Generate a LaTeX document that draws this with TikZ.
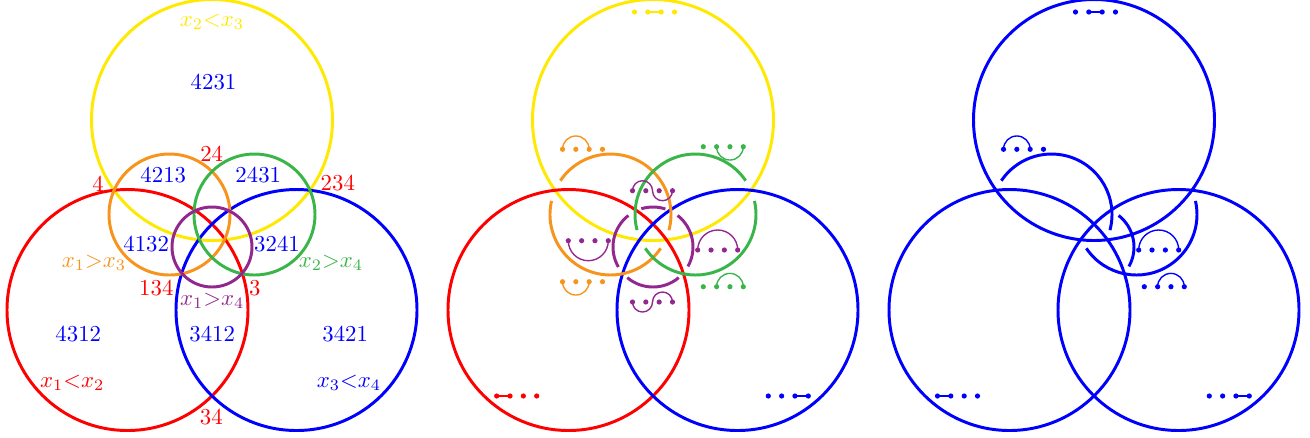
\documentclass[tikz,border=0pt]{standalone}
\definecolor{cyellow}{RGB}{255,233,0}
\definecolor{corange}{RGB}{247,148,29}
\definecolor{cgreen}{RGB}{57,181,74}
\definecolor{cpurple}{RGB}{146,39,143}

\begin{document}
\begin{tikzpicture}[x=0.015413cm,y=0.015413cm,
  ring/.style={line width=1.3pt},
  link/.style={line width=0.6pt},
  lbl/.style={inner sep=0pt}]
 \useasboundingbox (0,0) rectangle (1310,-437);
 % circle centres, one set per panel
 \foreach \p/\dx in {a/0,b/441,c/882}{
   \coordinate (Y\p) at (212+\dx,-120);
   \coordinate (R\p) at (127.5+\dx,-310);
   \coordinate (B\p) at (296.5+\dx,-310);
   \coordinate (O\p) at (169.5+\dx,-214.5);
   \coordinate (G\p) at (254.5+\dx,-214.5);
   \coordinate (P\p) at (212+\dx,-247);
 }

 % left panel: the regions
 \draw[ring,cyellow] (Ya) circle (120.5);
 \draw[ring,red] (Ra) circle (120.5);
 \draw[ring,blue] (Ba) circle (120.5);
 \draw[ring,corange] (Oa) circle (60.5);
 \draw[ring,cgreen] (Ga) circle (60.5);
 \draw[ring,cpurple] (Pa) circle (40);
 \node[lbl,cyellow] (lye) at (212,-22) {$x_2{<}x_3$};
 \node[lbl,blue] (n4231) at (213.5,-81.7) {4231};
 \node[lbl,red] (n24) at (211.7,-153.5) {24};
 \node[lbl,red] (n4) at (98,-183.3) {4};
 \node[lbl,blue] (n4213) at (163.3,-175.5) {4213};
 \node[lbl,blue] (n2431) at (258.3,-175.5) {2431};
 \node[lbl,red] (n234) at (337.8,-183.3) {234};
 \node[lbl,blue] (n4132) at (146.2,-244.3) {4132};
 \node[lbl,blue] (n3241) at (277,-244.3) {3241};
 \node[lbl,corange] (lor) at (94,-263) {$x_1{>}x_3$};
 \node[lbl,cgreen] (lgr) at (331,-263) {$x_2{>}x_4$};
 \node[lbl,red] (n134) at (156.3,-288.3) {134};
 \node[lbl,red] (n3) at (254.7,-288.3) {3};
 \node[lbl,cpurple] (lpu) at (212.3,-301) {$x_1{>}x_4$};
 \node[lbl,blue] (n4312) at (78.3,-333.8) {4312};
 \node[lbl,blue] (n3412) at (212.2,-333.8) {3412};
 \node[lbl,blue] (n3421) at (345.2,-333.8) {3421};
 \node[lbl,red] (lre) at (72.2,-383) {$x_1{<}x_2$};
 \node[lbl,blue] (lbu) at (349,-383) {$x_3{<}x_4$};
 \node[lbl,red] (n34) at (211.3,-416.7) {34};

 % middle panel: broken small circles
 \draw[ring,cyellow] (Yb) circle (120.5);
 \draw[ring,red] (Rb) circle (120.5);
 \draw[ring,blue] (Bb) circle (120.5);
 \draw[ring,corange] (Ob) ++(-15:60.5) arc[start angle=-15,end angle=146,radius=60.5];
 \draw[ring,corange] (Ob) ++(167:60.5) arc[start angle=167,end angle=326,radius=60.5];
 \draw[ring,cgreen] (Gb) ++(34:60.5) arc[start angle=34,end angle=195,radius=60.5];
 \draw[ring,cgreen] (Gb) ++(214:60.5) arc[start angle=214,end angle=373,radius=60.5];
 \draw[ring,cpurple] (Pb) ++(72:40) arc[start angle=72,end angle=107,radius=40];
 \draw[ring,cpurple] (Pb) ++(128:40) arc[start angle=128,end angle=210,radius=40];
 \draw[ring,cpurple] (Pb) ++(230:40) arc[start angle=230,end angle=310,radius=40];
 \draw[ring,cpurple] (Pb) ++(-29:40) arc[start angle=-29,end angle=52,radius=40];

 % right panel
 \draw[ring,blue] (Yc) circle (120.5);
 \draw[ring,blue] (Rc) circle (120.5);
 \draw[ring,blue] (Bc) circle (120.5);
 \draw[ring,blue] (Oc) ++(-15:60.5) arc[start angle=-15,end angle=146,radius=60.5];
 \draw[ring,blue] (Gc) ++(214:60.5) arc[start angle=214,end angle=373,radius=60.5];
 \draw[ring,blue] (Pc) ++(-29:40) arc[start angle=-29,end angle=52,radius=40];

 % rows of four points
 \foreach \x/\y/\c in {634.5/12/cyellow,496.7/396/red,768.3/396/blue,
     562.5/149.3/corange,562.5/281.7/corange,703.3/146.7/cgreen,
     703.3/286.7/cgreen,632.5/190.7/cpurple,632.5/302/cpurple,
     568.3/240.7/cpurple,697.7/250/cpurple,
     1075.5/12/blue,937.5/396/blue,1209.3/396/blue,
     1003.5/149.3/blue,1138.7/250/blue,1144.3/286.7/blue}
   \foreach \k in {0,...,3}
     \fill[\c] (\x+\k*13.33,-\y) circle (2.6);

 % links between the points
 \draw[link,cyellow] (647.8,-12) -- ++(13.33,0);
 \draw[link,red] (496.7,-396) -- ++(13.33,0);
 \draw[link,blue] (795,-396) -- ++(13.33,0);
 \draw[link,corange] (562.5,-149.3) arc[start angle=180,end angle=0,radius=13.33];
 \draw[link,corange] (562.5,-281.7) arc[start angle=180,end angle=360,radius=13.33];
 \draw[link,cgreen] (716.6,-146.7) arc[start angle=180,end angle=360,radius=13.33];
 \draw[link,cgreen] (716.6,-286.7) arc[start angle=180,end angle=0,radius=13.33];
 \draw[link,cpurple] (632.5,-190.7) arc[start angle=180,end angle=0,radius=10]
   arc[start angle=180,end angle=360,radius=10];
 \draw[link,cpurple] (632.5,-302) arc[start angle=180,end angle=360,radius=10]
   arc[start angle=180,end angle=0,radius=10];
 \draw[link,cpurple] (568.3,-240.7) arc[start angle=180,end angle=360,radius=20];
 \draw[link,cpurple] (697.7,-250) arc[start angle=180,end angle=0,radius=20];

 \draw[link,blue] (1088.8,-12) -- ++(13.33,0);
 \draw[link,blue] (937.5,-396) -- ++(13.33,0);
 \draw[link,blue] (1236,-396) -- ++(13.33,0);
 \draw[link,blue] (1003.5,-149.3) arc[start angle=180,end angle=0,radius=13.33];
 \draw[link,blue] (1138.7,-250) arc[start angle=180,end angle=0,radius=20];
 \draw[link,blue] (1157.6,-286.7) arc[start angle=180,end angle=0,radius=13.33];
\end{tikzpicture}
\end{document}
